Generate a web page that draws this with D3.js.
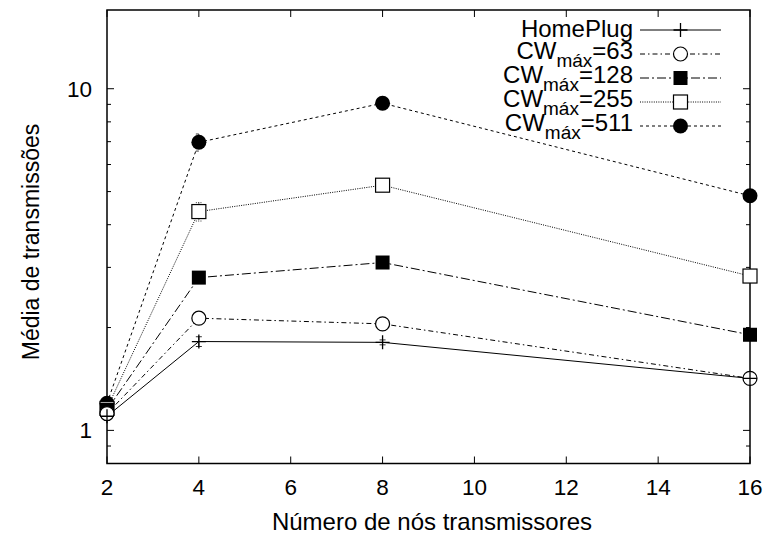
<!DOCTYPE html>
<html><head><meta charset="utf-8">
<script src="https://cdn.jsdelivr.net/npm/d3@7"></script>
<style>body{margin:0;background:#fff}svg{display:block}text{font-family:"Liberation Sans",Arial,Helvetica,sans-serif;fill:#000}</style>
</head><body><svg id="c" width="768" height="539"></svg>
<script>
const nodes = [2, 4, 8, 16];
const homeplug = [1.10, 1.82, 1.81, 1.42];
const cw63 = [1.12, 2.13, 2.05, 1.42];
const cw128 = [1.15, 2.80, 3.10, 1.905];
const cw255 = [1.16, 4.37, 5.22, 2.83];
const cw511 = [1.20, 6.97, 9.07, 4.86];
const err63 = [0.03, 0.08, 0.04, 0.03];
const err128 = [0.03, 0.08, 0.06, 0.03];
const err255 = [0.03, 0.27, 0.12, 0.06];
const err511 = [0.04, 0.40, 0.15, 0.08];
const errHP = [0.03, 0.06, 0.03, 0.02];
const xTicks = [2, 4, 6, 8, 10, 12, 14, 16];
const yTicks = [1, 10];
const seriesNames = ["HomePlug", "63", "128", "255", "511"];

const svg = d3.select("#c");
const L = 107, R = 750, T = 10, B = 463.5;
const x = d3.scaleLinear().domain([2, 16]).range([L, R]);
const y = d3.scaleLog().domain([0.8, 17]).range([B, T]);

const series = [
  {name: seriesNames[0], v: homeplug, e: errHP, dash: null, m: "plus"},
  {name: seriesNames[1], v: cw63, e: err63, dash: "5,3,1.5,3", m: "circle"},
  {name: seriesNames[2], v: cw128, e: err128, dash: "9,3,2,3", m: "fsquare"},
  {name: seriesNames[3], v: cw255, e: err255, dash: "1,1.3", m: "square"},
  {name: seriesNames[4], v: cw511, e: err511, dash: "3,3", m: "fcircle"}
];

const minor = [];
[0.1, 1, 10].forEach(d => { for (let k = 2; k <= 9; k++) { const v = d * k; if (v >= 0.8 && v <= 17 && v !== 1 && v !== 10) minor.push(v); } });

const ax = svg.append("g");
xTicks.forEach(t => {
  ax.append("line").attr("x1", x(t)).attr("x2", x(t)).attr("y1", B).attr("y2", B - 7).attr("stroke", "#000").attr("stroke-width", 1);
  ax.append("line").attr("x1", x(t)).attr("x2", x(t)).attr("y1", T).attr("y2", T + 7).attr("stroke", "#000").attr("stroke-width", 1);
  ax.append("text").attr("x", x(t)).attr("y", 495).attr("text-anchor", "middle").attr("font-size", 22.5).text(t);
});
yTicks.forEach(t => {
  ax.append("line").attr("x1", L).attr("x2", L + 7).attr("y1", y(t)).attr("y2", y(t)).attr("stroke", "#000");
  ax.append("line").attr("x1", R).attr("x2", R - 7).attr("y1", y(t)).attr("y2", y(t)).attr("stroke", "#000");
  ax.append("text").attr("x", 92).attr("y", y(t) + 8).attr("text-anchor", "end").attr("font-size", 22.5).text(t);
});
minor.forEach(t => {
  ax.append("line").attr("x1", L).attr("x2", L + 4).attr("y1", y(t)).attr("y2", y(t)).attr("stroke", "#000");
  ax.append("line").attr("x1", R).attr("x2", R - 4).attr("y1", y(t)).attr("y2", y(t)).attr("stroke", "#000");
});
ax.append("rect").attr("x", L).attr("y", T).attr("width", R - L).attr("height", B - T).attr("fill", "none").attr("stroke", "#000").attr("stroke-width", 1.5);

svg.append("text").attr("x", 432).attr("y", 530).attr("text-anchor", "middle").attr("font-size", 24).text("Número de nós transmissores");
svg.append("text").attr("transform", "translate(39,242) rotate(-90)").attr("text-anchor", "middle").attr("font-size", 23).text("Média de transmissões");

function marker(g, type, cx, cy) {
  if (type === "plus") {
    g.append("path").attr("d", `M${cx-7},${cy}H${cx+7}M${cx},${cy-7}V${cy+7}`).attr("stroke", "#000").attr("stroke-width", 1.3);
  } else if (type === "circle") {
    g.append("circle").attr("cx", cx).attr("cy", cy).attr("r", 7).attr("fill", "#fff").attr("stroke", "#000").attr("stroke-width", 1.2);
  } else if (type === "fcircle") {
    g.append("circle").attr("cx", cx).attr("cy", cy).attr("r", 7.5).attr("fill", "#000");
  } else if (type === "square") {
    g.append("rect").attr("x", cx - 7).attr("y", cy - 7).attr("width", 14).attr("height", 14).attr("fill", "#fff").attr("stroke", "#000").attr("stroke-width", 1.2);
  } else if (type === "fsquare") {
    g.append("rect").attr("x", cx - 7).attr("y", cy - 7).attr("width", 14).attr("height", 14).attr("fill", "#000");
  }
}

const line = d3.line().x((d, i) => x(nodes[i])).y(d => y(d));
const plot = svg.append("g");
series.forEach(s => {
  const p = plot.append("path").datum(s.v).attr("d", line).attr("fill", "none").attr("stroke", "#000").attr("stroke-width", 1);
  if (s.dash) p.attr("stroke-dasharray", s.dash);
});
series.slice().reverse().forEach(s => {
  s.v.forEach((v, i) => {
    const cx = x(nodes[i]), y1 = y(v + s.e[i]), y2 = y(v - s.e[i]);
    plot.append("path").attr("d", `M${cx},${y1}V${y2}M${cx-3},${y1}H${cx+3}M${cx-3},${y2}H${cx+3}`).attr("stroke", "#000").attr("stroke-width", 0.8).attr("stroke-dasharray", s.dash || null);
  });
});
series.slice().reverse().forEach(s => {
  s.v.forEach((v, i) => marker(plot, s.m, x(nodes[i]), y(v)));
});

const leg = svg.append("g");
series.forEach((s, i) => {
  const cy = 30 + i * 24;
  const t = leg.append("text").attr("x", 633).attr("text-anchor", "end").attr("font-size", 24);
  if (i === 0) t.attr("y", cy + 7).text(s.name);
  else {
    t.attr("y", cy + 4.5);
    t.append("tspan").text("CW");
    t.append("tspan").attr("dy", 8.5).attr("font-size", 19).text("máx");
    t.append("tspan").attr("dy", -8.5).text("=" + s.name);
  }
  const l = leg.append("line").attr("x1", 640).attr("x2", 721).attr("y1", cy).attr("y2", cy).attr("stroke", "#000").attr("stroke-width", 1);
  if (s.dash) l.attr("stroke-dasharray", s.dash);
  marker(leg, s.m, 680.5, cy);
});
</script></body></html>
